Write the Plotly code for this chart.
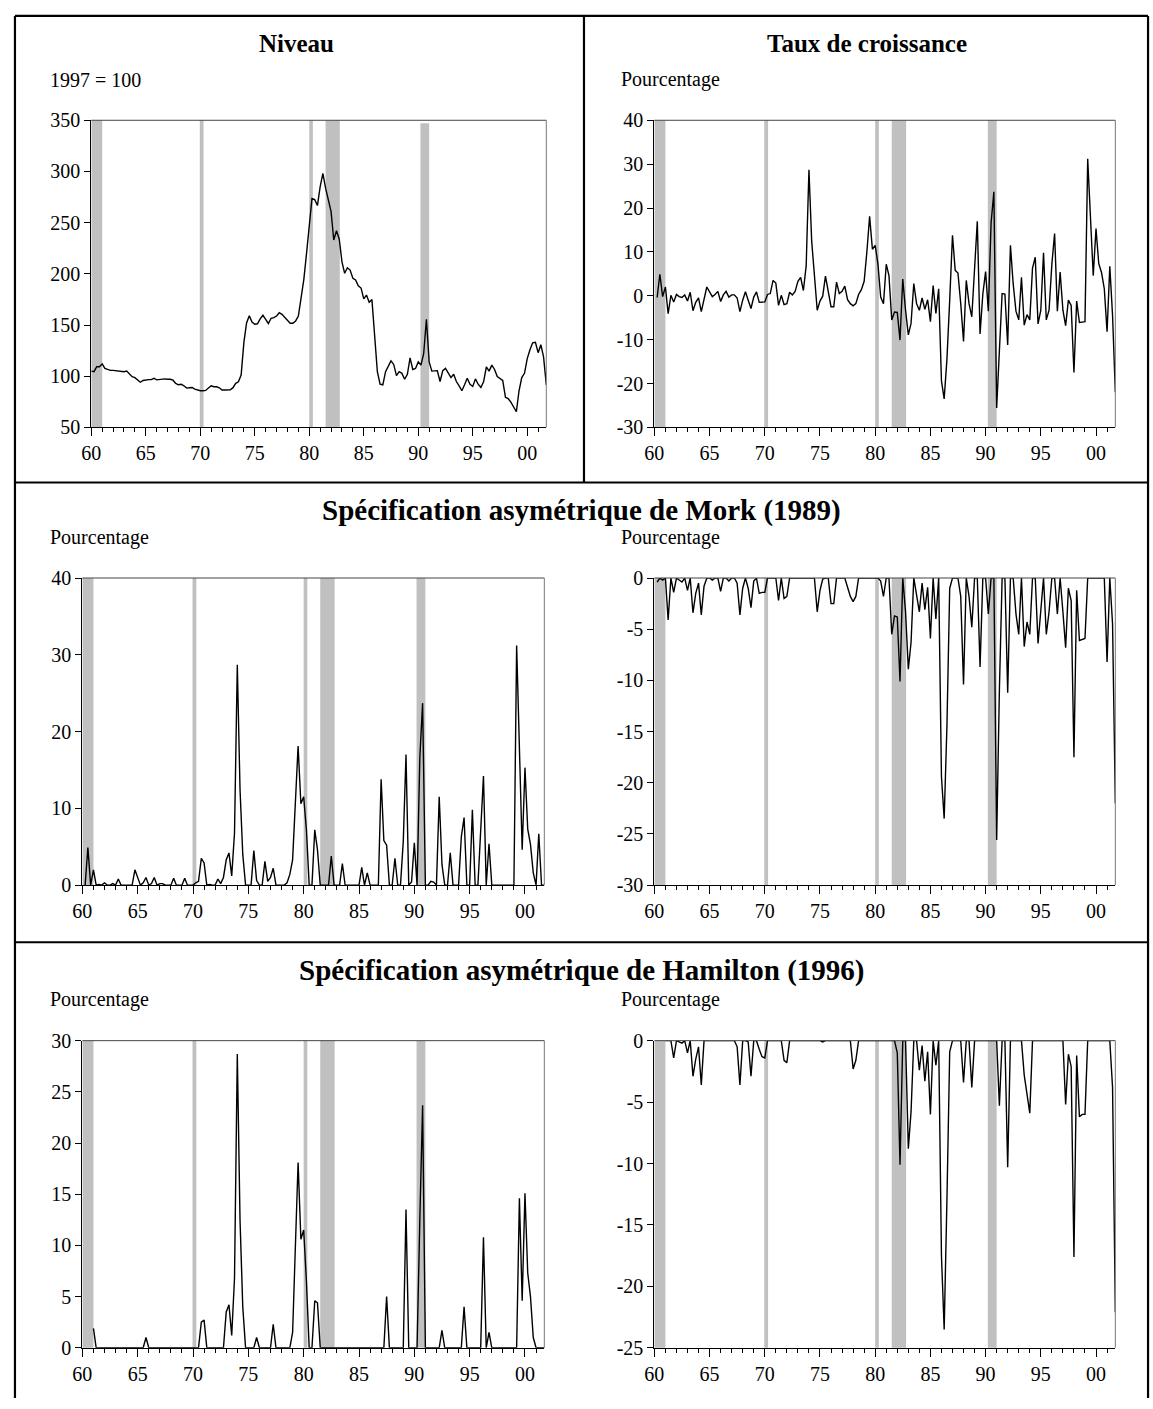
import pandas as pd
import plotly.graph_objects as go

W, H = 1153, 1409
SERIF = "Liberation Serif, Times New Roman, serif"

# Quarterly observations, 1960Q1 - 2001Q4
trimestres = pd.date_range("1960-01-01", "2001-10-01", freq="QS")

# Real oil price index (1997 = 100)
niveau = [
    105.0, 104.4, 109.2, 109.2, 112.1, 107.6, 106.6, 105.7, 105.7, 105.4,
    105.4, 105.0, 104.4, 105.0, 101.8, 99.6, 98.6, 96.4, 94.1, 95.8,
    96.4, 96.7, 96.7, 98.0, 96.4, 96.7, 97.4, 97.4, 97.0, 97.0,
    96.1, 92.9, 91.6, 92.2, 90.6, 88.4, 88.7, 89.0, 87.4, 86.5,
    85.8, 85.8, 86.1, 88.4, 90.6, 89.7, 89.7, 88.7, 86.5, 86.5,
    86.8, 86.8, 88.8, 93.0, 94.6, 101.2, 133.0, 152.0, 159.0, 153.0,
    150.8, 151.2, 156.0, 159.5, 155.6, 151.5, 156.6, 157.2, 158.8, 162.0,
    160.4, 157.2, 154.0, 151.8, 151.8, 154.0, 158.8, 174.8, 194.1, 219.7,
    248.5, 273.5, 272.5, 266.7, 285.3, 298.1, 283.7, 272.5, 260.7, 233.1,
    242.1, 234.1, 211.7, 200.5, 205.9, 203.7, 195.7, 194.1, 188.3, 186.1,
    175.5, 179.3, 172.3, 174.8, 136.4, 104.4, 92.2, 91.6, 104.4, 109.2,
    115.0, 111.5, 100.6, 104.4, 102.8, 97.0, 101.9, 117.9, 106.6, 107.6,
    114.0, 110.8, 122.0, 155.6, 114.0, 105.0, 105.4, 105.4, 94.8, 105.4,
    107.6, 102.8, 98.6, 101.9, 94.8, 90.6, 85.8, 91.6, 98.0, 92.2,
    90.0, 97.4, 92.2, 89.0, 94.8, 109.2, 105.0, 110.8, 106.6, 99.6,
    97.4, 95.8, 79.4, 78.2, 74.6, 69.8, 65.3, 85.8, 98.6, 102.8,
    117.2, 125.9, 132.6, 133.2, 123.0, 130.7, 118.8, 91.6,
]

# Quarterly growth rate (%)
croissance = [
    None, -0.4, 4.9, -0.2, 2.0, -4.1, 0.1, -1.4, 0.3, -0.2,
    -0.4, 0.2, -1.2, 0.8, -3.4, -1.5, -0.5, -3.6, -0.8, 2.0,
    0.9, -0.2, 0.3, 1.0, -1.3, 0.2, 1.0, -0.3, 0.2, 0.2,
    -0.5, -3.6, -1.0, 0.9, -1.0, -2.9, -0.3, 0.9, -1.5, -1.4,
    -1.4, 0.3, 0.5, 3.5, 2.9, -2.2, 0.1, -2.0, -1.8, 0.8,
    0.2, 1.0, 3.3, 4.2, 1.2, 6.8, 28.7, 12.5, 4.0, -3.3,
    -1.2, -0.1, 4.5, 0.6, -2.5, -2.5, 3.1, 0.5, 1.0, 2.2,
    -0.9, -1.8, -2.3, -1.8, 0.3, 1.4, 3.3, 10.0, 18.1, 10.6,
    11.5, 7.2, -0.3, -1.8, 7.2, 4.6, -5.5, -3.7, -3.8, -10.1,
    3.8, -3.3, -8.9, -6.3, 2.8, -1.8, -3.3, -0.5, -3.1, -0.9,
    -5.9, 2.3, -4.0, 1.6, -19.4, -23.5, -14.5, -1.0, 13.8, 5.8,
    5.2, -1.8, -10.4, 3.5, -1.8, -4.8, 5.7, 17.0, -8.7, 0.4,
    5.5, -3.5, 16.6, 23.7, -25.6, -11.0, 0.5, 0.4, -11.2, 11.5,
    2.7, -3.5, -5.5, 4.2, -6.7, -4.3, -5.5, 6.3, 8.8, -6.4,
    -3.3, 9.8, -5.5, -3.3, 7.2, 14.2, -3.5, 5.4, -3.3, -6.8,
    -1.0, -2.2, -17.5, -1.2, -6.1, -6.0, -5.9, 31.2, 16.0, 4.6,
    15.3, 7.3, 5.3, 1.6, -8.2, 6.7, -4.5, -22.0,
]

# Mork (1989): positive and negative parts of the growth rate
mork_hausse = [
    None, 0, 4.9, 0, 2.0, 0, 0.1, 0, 0.3, 0,
    0, 0.2, 0, 0.8, 0, 0, 0, 0, 0, 2.0,
    0.9, 0, 0.3, 1.0, 0, 0.2, 1.0, 0, 0.2, 0.2,
    0, 0, 0, 0.9, 0, 0, 0, 0.9, 0, 0,
    0, 0.3, 0.5, 3.5, 2.9, 0, 0.1, 0, 0, 0.8,
    0.2, 1.0, 3.3, 4.2, 1.2, 6.8, 28.7, 12.5, 4.0, 0,
    0, 0, 4.5, 0.6, 0, 0, 3.1, 0.5, 1.0, 2.2,
    0, 0, 0, 0, 0.3, 1.4, 3.3, 10.0, 18.1, 10.6,
    11.5, 7.2, 0, 0, 7.2, 4.6, 0, 0, 0, 0,
    3.8, 0, 0, 0, 2.8, 0, 0, 0, 0, 0,
    0, 2.3, 0, 1.6, 0, 0, 0, 0, 13.8, 5.8,
    5.2, 0, 0, 3.5, 0, 0, 5.7, 17.0, 0, 0.4,
    5.5, 0, 16.6, 23.7, 0, 0, 0.5, 0.4, 0, 11.5,
    2.7, 0, 0, 4.2, 0, 0, 0, 6.3, 8.8, 0,
    0, 9.8, 0, 0, 7.2, 14.2, 0, 5.4, 0, 0,
    0, 0, 0, 0, 0, 0, 0, 31.2, 16.0, 4.6,
    15.3, 7.3, 5.3, 1.6, 0, 6.7, 0, 0,
]
mork_baisse = [
    None, -0.4, 0, -0.2, 0, -4.1, 0, -1.4, 0, -0.2,
    -0.4, 0, -1.2, 0, -3.4, -1.5, -0.5, -3.6, -0.8, 0,
    0, -0.2, 0, 0, -1.3, 0, 0, -0.3, 0, 0,
    -0.5, -3.6, -1.0, 0, -1.0, -2.9, -0.3, 0, -1.5, -1.4,
    -1.4, 0, 0, 0, 0, -2.2, 0, -2.0, -1.8, 0,
    0, 0, 0, 0, 0, 0, 0, 0, 0, -3.3,
    -1.2, -0.1, 0, 0, -2.5, -2.5, 0, 0, 0, 0,
    -0.9, -1.8, -2.3, -1.8, 0, 0, 0, 0, 0, 0,
    0, 0, -0.3, -1.8, 0, 0, -5.5, -3.7, -3.8, -10.1,
    0, -3.3, -8.9, -6.3, 0, -1.8, -3.3, -0.5, -3.1, -0.9,
    -5.9, 0, -4.0, 0, -19.4, -23.5, -14.5, -1.0, 0, 0,
    0, -1.8, -10.4, 0, -1.8, -4.8, 0, 0, -8.7, 0,
    0, -3.5, 0, 0, -25.6, -11.0, 0, 0, -11.2, 0,
    0, -3.5, -5.5, 0, -6.7, -4.3, -5.5, 0, 0, -6.4,
    -3.3, 0, -5.5, -3.3, 0, 0, -3.5, 0, -3.3, -6.8,
    -1.0, -2.2, -17.5, -1.2, -6.1, -6.0, -5.9, 0, 0, 0,
    0, 0, 0, 0, -8.2, 0, -4.5, -22.0,
]

# Hamilton (1996): net increases / decreases over the previous four quarters
hamilton_hausse = [
    None, None, None, None, 1.9, 0, 0, 0, 0, 0,
    0, 0, 0, 0, 0, 0, 0, 0, 0, 0,
    0, 0, 0, 1.0, 0, 0, 0, 0, 0, 0,
    0, 0, 0, 0, 0, 0, 0, 0, 0, 0,
    0, 0, 0, 2.5, 2.7, 0, 0, 0, 0, 0,
    0, 0, 3.5, 4.2, 1.2, 6.8, 28.7, 12.5, 4.0, 0,
    0, 0, 0, 1.0, 0, 0, 0, 0, 0, 2.3,
    0, 0, 0, 0, 0, 0, 1.5, 10.0, 18.1, 10.6,
    11.5, 6.5, 0, 0, 4.6, 4.4, 0, 0, 0, 0,
    0, 0, 0, 0, 0, 0, 0, 0, 0, 0,
    0, 0, 0, 0, 0, 0, 0, 0, 0, 0,
    5.0, 0, 0, 0, 0, 0, 0, 13.5, 0, 0,
    0, 0, 12.5, 23.7, 0, 0, 0, 0, 0, 0,
    1.7, 0, 0, 0, 0, 0, 0, 0, 4.0, 0,
    0, 0, 0, 0, 0, 10.8, 0, 1.5, 0, 0,
    0, 0, 0, 0, 0, 0, 0, 0, 14.6, 4.6,
    15.1, 7.3, 5.0, 1.0, 0, 0, 0, 0,
]
hamilton_baisse = [
    None, None, None, None, 0, 0, 0, -1.4, 0, -0.1,
    -0.2, 0, -1.0, 0, -2.9, -1.5, -0.5, -3.6, 0, 0,
    0, 0, 0, 0, 0, 0, 0, 0, 0, 0,
    -0.5, -3.6, 0, 0, -0.1, -2.9, 0, 0, -0.7, -1.3,
    -1.4, 0, 0, 0, 0, 0, 0, -1.6, -1.8, 0,
    0, 0, 0, 0, 0, 0, 0, 0, 0, 0,
    0, -0.1, 0, 0, 0, 0, 0, 0, 0, 0,
    0, 0, -2.3, -1.6, 0, 0, 0, 0, 0, 0,
    0, 0, 0, 0, 0, 0, 0, 0, -1.0, -10.1,
    0, 0, -8.8, -5.8, 0, 0, -2.4, -0.4, -3.3, -0.9,
    -6.0, 0, -2.0, 0, -17.5, -23.5, -13.0, -0.9, 0, 0,
    0, 0, -3.4, 0, 0, -3.8, 0, 0, 0, 0,
    0, 0, 0, 0, 0, -5.3, 0, 0, -10.3, 0,
    0, 0, 0, 0, -2.8, -4.3, -5.9, 0, 0, 0,
    0, 0, 0, -0.05, 0, 0, 0, 0, 0, -5.2,
    -1.1, -2.1, -17.6, -1.2, -6.2, -6.0, -6.0, 0, 0, 0,
    0, 0, 0, 0, 0, 0, -3.8, -22.1,
]

# Shaded periods
periodes = [
    ("1960-01-01", "1961-01-01"),
    ("1969-12-15", "1970-04-20"),
    ("1980-01-01", "1980-05-01"),
    ("1981-07-01", "1982-10-20"),
    ("1990-03-15", "1991-01-01"),
]

# Panel definitions: series, pixel box (left, right, top, bottom), y range, y ticks
panneaux = [
    (niveau, (82, 541, 111, 423), (50, 350), list(range(50, 351, 50))),
    (croissance, (650, 1115, 111, 423), (-30, 40), list(range(-30, 41, 10))),
    (mork_hausse, (73, 539, 576, 888), (0, 40), list(range(0, 41, 10))),
    (mork_baisse, (650, 1115, 576, 888), (-30, 0), list(range(-30, 1, 5))),
    (hamilton_hausse, (73, 539, 1046, 1358), (0, 30), list(range(0, 31, 5))),
    (hamilton_baisse, (650, 1115, 1046, 1358), (-25, 0), list(range(-25, 1, 5))),
]

fig = go.Figure()
shapes = []
tickfont = dict(family=SERIF, size=20, color="black")

for k, (serie, box, yr, yt) in enumerate(panneaux, start=1):
    sfx = "" if k == 1 else str(k)
    xa, ya = "x" + sfx, "y" + sfx
    left, right, top, bottom = box

    fig.add_trace(go.Scatter(
        x=trimestres, y=serie, mode="lines",
        line=dict(color="black", width=1.4),
        xaxis=xa, yaxis=ya, showlegend=False, hoverinfo="skip",
    ))

    fig.layout["xaxis" + sfx] = dict(
        domain=[left / W, right / W], anchor=ya, type="date",
        range=["1960-01-01", "2001-10-01"],
        tick0="1960-01-01", dtick="M60", tickformat="%y",
        ticks="outside", ticklen=8, tickwidth=1, tickcolor="black",
        minor=dict(ticks="outside", ticklen=4, dtick="M12",
                   tick0="1960-01-01", tickcolor="black", showgrid=False),
        showline=True, linecolor="black", linewidth=1,
        showgrid=False, zeroline=False, tickfont=tickfont,
        fixedrange=True,
    )
    fig.layout["yaxis" + sfx] = dict(
        domain=[1 - bottom / H, 1 - top / H], anchor=xa, range=list(yr),
        tickvals=yt, ticktext=[str(v) for v in yt],
        ticks="outside", ticklen=6, tickwidth=1, tickcolor="black",
        showline=True, linecolor="black", linewidth=1,
        showgrid=False, zeroline=False, tickfont=tickfont,
        fixedrange=True,
    )

    # shaded periods (the last band of the level panel stops just short of the top)
    for j, (d0, d1) in enumerate(periodes):
        haut = 0.99 if (k == 1 and j == len(periodes) - 1) else 1
        shapes.append(dict(
            type="rect", xref=xa, yref=ya + " domain",
            x0=d0, x1=d1, y0=0, y1=haut,
            fillcolor="#c0c0c0", line=dict(width=0), layer="below",
        ))
    # top and right frame lines
    shapes.append(dict(type="line", xref=xa + " domain", yref=ya + " domain",
                       x0=0, x1=1, y0=1, y1=1, line=dict(color="#444", width=1)))
    shapes.append(dict(type="line", xref=xa + " domain", yref=ya + " domain",
                       x0=1, x1=1, y0=0, y1=1, line=dict(color="#777", width=1)))


def px_line(x0, y0, x1, y1):
    return dict(type="line", xref="paper", yref="paper",
                x0=x0 / W, x1=x1 / W, y0=1 - y0 / H, y1=1 - y1 / H,
                line=dict(color="black", width=2.2))


# outer frame and section separators
shapes += [
    px_line(5, 5, 1148, 5),
    px_line(5, 5, 5, 1409),
    px_line(1148, 5, 1148, 1409),
    px_line(579, 5, 579, 479),
    px_line(5, 479, 1148, 479),
    px_line(5, 946, 1148, 946),
]


def texte(x, y, s, bold=False, anchor="left", size=20):
    return dict(
        xref="paper", yref="paper", x=x / W, y=1 - y / H,
        text="<b>%s</b>" % s if bold else s, showarrow=False,
        xanchor=anchor, yanchor="middle",
        font=dict(family=SERIF, size=size, color="black"),
    )


annotations = [
    texte(289, 33, "Niveau", bold=True, anchor="center", size=25),
    texte(864, 33, "Taux de croissance", bold=True, anchor="center", size=25),
    texte(38, 70, "1997 = 100"),
    texte(614, 70, "Pourcentage"),
    texte(576, 507, "Spécification asymétrique de Mork (1989)", bold=True, anchor="center", size=29),
    texte(38, 535, "Pourcentage"),
    texte(614, 535, "Pourcentage"),
    texte(576, 975, "Spécification asymétrique de Hamilton (1996)", bold=True, anchor="center", size=29),
    texte(38, 1004, "Pourcentage"),
    texte(614, 1004, "Pourcentage"),
]

fig.update_layout(
    width=W, height=H, autosize=False,
    margin=dict(l=0, r=0, t=0, b=0),
    paper_bgcolor="white", plot_bgcolor="white",
    shapes=shapes, annotations=annotations,
    font=dict(family=SERIF, color="black"),
)

fig.write_html("out.html")
